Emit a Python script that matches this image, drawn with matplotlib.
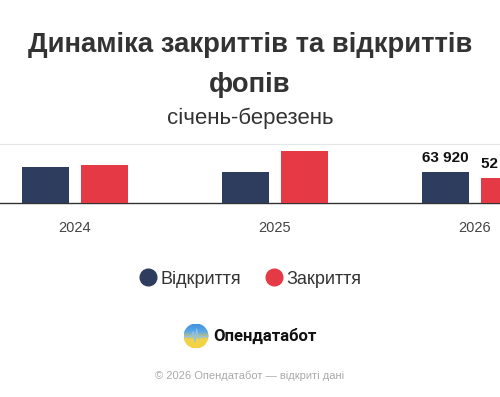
import numpy as np
import matplotlib
matplotlib.use("Agg")
import matplotlib.pyplot as plt
from matplotlib.lines import Line2D
from matplotlib.patches import Circle

# data
years = ["2024", "2025", "2026"]
opened = [75700, 64000, 63920]
closed = [78700, 109300, 52300]
labels_opened = ["", "", "63 920"]
labels_closed = ["", "", "52 300"]
series_names = ["Відкриття", "Закриття"]

BLUE = "#2e3c5e"
RED = "#e63946"
W, H = 500, 397

plt.rcParams['font.family'] = ['Liberation Sans', 'DejaVu Sans']

fig = plt.figure(figsize=(W / 100, H / 100), dpi=100)
fig.patch.set_facecolor("white")


def fy(ypx):
    return 1 - ypx / H


# titles
fig.text(0.5, fy(52), "Динаміка закриттів та відкриттів", ha="center", va="baseline",
         fontsize=19.8, fontweight="bold", color="#333333")
fig.text(0.5, fy(92.5), "фопів", ha="center", va="baseline",
         fontsize=19.8, fontweight="bold", color="#333333")
fig.text(0.5, fy(123.5), "січень-березень", ha="center", va="baseline",
         fontsize=16, color="#333333")

# bars (the chart is cropped on the right, like the reference)
ax = fig.add_axes([0, fy(202.7), 1, (202.7 - 144.3) / H])
x = np.arange(len(years))
bw = 0.235
off = 0.147
b1 = ax.bar(x - off, opened, bw, color=BLUE, zorder=3)
b2 = ax.bar(x + off, closed, bw, color=RED, zorder=3)
ax.set_xlim(-0.375, 2.125)
ax.set_ylim(0, 122800)

for bars, labs in ((b1, labels_opened), (b2, labels_closed)):
    for rect, lab in zip(bars, labs):
        if lab:
            ax.annotate(lab, (rect.get_x() + rect.get_width() / 2, rect.get_height()),
                        xytext=(0, 5), textcoords="offset points", ha="center", va="bottom",
                        fontsize=11, fontweight="bold", color="#111111", annotation_clip=False)

ax.set_xticks(x)
ax.set_xticklabels(years, fontsize=10.5, color="#444444")
ax.tick_params(axis="x", length=0, pad=13)
ax.set_yticks([])
ax.spines["left"].set_visible(False)
ax.spines["right"].set_visible(False)
ax.spines["top"].set_color("#e6e6e6")
ax.spines["bottom"].set_color("#333333")
ax.spines["bottom"].set_linewidth(1.0)
ax.patch.set_alpha(0)

# legend
handles = [Line2D([], [], marker="o", linestyle="", markersize=12, color=BLUE),
           Line2D([], [], marker="o", linestyle="", markersize=12, color=RED)]
fig.legend(handles, series_names, loc="center", bbox_to_anchor=(0.5, fy(279)), ncol=2,
           frameon=False, fontsize=13, labelcolor="#333333", handletextpad=0.2,
           columnspacing=1.3, handlelength=1.0)

# logo
lax = fig.add_axes([(196 - 12.5) / W, fy(336 + 12.5), 25 / W, 25 / H])
grad = np.linspace(0, 1, 100)[:, None] * np.ones((1, 100))
cmap = matplotlib.colors.LinearSegmentedColormap.from_list("logo", ["#f4d13e", "#f2d34c", "#5aa8e6", "#3d8fdc"])
im = lax.imshow(grad, cmap=cmap, extent=(-1, 1, -1, 1), origin="lower")
clip = Circle((0, 0), 1, transform=lax.transData)
im.set_clip_path(clip)
px = [-1, -0.35, -0.22, -0.08, 0.05, 0.18, 0.32, 1]
py = [-0.05, -0.05, 0.35, -0.45, 0.55, -0.2, -0.05, -0.05]
ln, = lax.plot(px, py, color="#8fc3ee", lw=0.8)
ln.set_clip_path(Circle((0, 0), 1, transform=lax.transData))
lax.set_xlim(-1, 1)
lax.set_ylim(-1, 1)
lax.axis("off")

fig.text(213 / W, fy(336), "Опендатабот", ha="left", va="center",
         fontsize=12, fontweight="bold", color="#111111",
         family=["Roboto", "DejaVu Sans"])

fig.text(0.5, fy(376), "© 2026 Опендатабот — відкриті дані", ha="center", va="center",
         fontsize=8, color="#aaaaaa")

fig.savefig("out.png", dpi=100, facecolor="white")
